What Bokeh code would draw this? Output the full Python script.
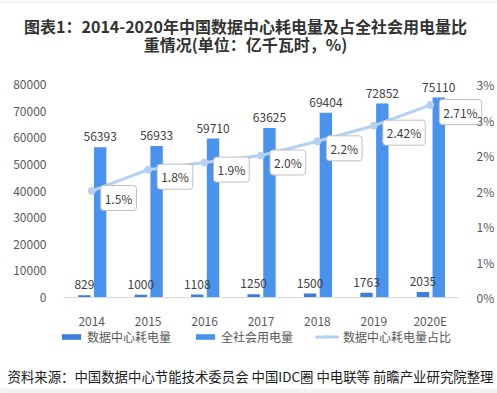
from bokeh.plotting import figure
from bokeh.models import (Range1d, LinearAxis, ColumnDataSource, Label, BoxAnnotation,
                          Legend, LegendItem, CustomJSTickFormatter, FixedTicker)
from bokeh.transform import dodge
from bokeh.core.properties import value
from bokeh.embed import file_html
from bokeh.resources import INLINE

# ---- data ----
years = ["2014", "2015", "2016", "2017", "2018", "2019", "2020E"]
dc_power = [829, 1000, 1108, 1250, 1500, 1763, 2035]
total_power = [56393, 56933, 59710, 63625, 69404, 72852, 75110]
dc_share = [1.5, 1.8, 1.9, 2.0, 2.2, 2.42, 2.71]
share_labels = ["1.5%", "1.8%", "1.9%", "2.0%", "2.2%", "2.42%", "2.71%"]
left_ticks = [0, 10000, 20000, 30000, 40000, 50000, 60000, 70000, 80000]
right_ticks = [0, 0.5, 1, 1.5, 2, 2.5, 3]
title_line1 = "图表1：2014-2020年中国数据中心耗电量及占全社会用电量比"
title_line2 = "重情况(单位：亿千瓦时，%)"
series_names = ["数据中心耗电量", "全社会用电量", "数据中心耗电量占比"]
source_note = "资料来源：中国数据中心节能技术委员会 中国IDC圈 中电联等 前瞻产业研究院整理"

# ---- layout (pixels) ----
W, H = 497, 393
PLOT_L, PLOT_R, PLOT_T, PLOT_B = 63, 458, 84, 297   # plotting area inside canvas
n = len(years)
cat_px = (PLOT_R - PLOT_L) / n
x_start = -0.5 - PLOT_L / cat_px
x_end = x_start + W / cat_px
y_max, p_max = 80000, 3
y_per_px = y_max / (PLOT_B - PLOT_T)
p_per_px = p_max / (PLOT_B - PLOT_T)

FONT = "Noto Sans CJK SC"
C_DC = "#3D7ED8"
C_TOTAL = "#4A92EA"
C_LINE = "#B5D0F0"
C_TXT = "#404040"
C_AX = "#595959"

xs = list(range(n))
src = ColumnDataSource(dict(
    x=xs, dc=dc_power, total=total_power, share=dc_share,
    dc_txt=[str(v) for v in dc_power], total_txt=[str(v) for v in total_power],
    share_txt=share_labels,
))

p = figure(width=W, height=H,
           x_range=Range1d(x_start, x_end),
           y_range=Range1d(-(H - PLOT_B) * y_per_px, y_max + PLOT_T * y_per_px),
           output_backend="svg", toolbar_location=None, title=None,
           min_border=0, min_border_left=0, min_border_right=0,
           min_border_top=0, min_border_bottom=0,
           x_axis_location=None, y_axis_location=None)
p.extra_y_ranges = {"pct": Range1d(-(H - PLOT_B) * p_per_px, p_max + PLOT_T * p_per_px)}
p.outline_line_color = None
p.xgrid.grid_line_color = None
p.ygrid.grid_line_color = None
p.background_fill_color = "white"
p.border_fill_color = "white"

# grey bands of the page (bottom and top edge)
p.add_layout(BoxAnnotation(bottom=0, top=5, bottom_units="screen", top_units="screen",
                           fill_color="#F2F2F2", fill_alpha=1, line_color=None))
p.add_layout(BoxAnnotation(bottom=H - 3, top=H, bottom_units="screen", top_units="screen",
                           fill_color="#F4F4F4", fill_alpha=1, line_color=None))

# left axis
ly = LinearAxis(ticker=FixedTicker(ticks=left_ticks), fixed_location=-0.5)
ly.axis_line_color = None
ly.major_tick_line_color = None
ly.minor_tick_line_color = None
ly.major_label_standoff = 11
ly.major_label_text_font = FONT
ly.major_label_text_font_size = "12px"
ly.major_label_text_color = C_AX
p.add_layout(ly, "left")

# right axis
ry = LinearAxis(y_range_name="pct", ticker=FixedTicker(ticks=right_ticks),
                formatter=CustomJSTickFormatter(code="return Math.round(tick) + '%';"),
                fixed_location=n - 0.5)
ry.axis_line_color = None
ry.major_tick_line_color = None
ry.minor_tick_line_color = None
ry.major_label_standoff = 12
ry.major_label_text_font = FONT
ry.major_label_text_font_size = "12px"
ry.major_label_text_color = C_AX
p.add_layout(ry, "right")

# bottom axis
bx = LinearAxis(ticker=FixedTicker(ticks=xs), fixed_location=0,
                major_label_overrides={i: y for i, y in zip(xs, years)},
                bounds=(-0.5, n - 0.5))
bx.axis_line_color = "#D9D9D9"
bx.major_tick_line_color = None
bx.minor_tick_line_color = None
bx.major_label_standoff = 8
bx.major_label_text_font = FONT
bx.major_label_text_font_size = "12px"
bx.major_label_text_color = C_AX
p.add_layout(bx, "below")

# bars
OFF_DC, OFF_TOT, BW = -0.13, 0.15, 0.22
r_dc = p.vbar(x=dodge("x", OFF_DC), top="dc", width=BW, source=src,
              fill_color=C_DC, line_color=None)
r_total = p.vbar(x=dodge("x", OFF_TOT), top="total", width=BW, source=src,
                 fill_color=C_TOTAL, line_color=None)

# bar value labels
p.text(x=dodge("x", OFF_DC), y="dc", text="dc_txt", source=src,
       text_align="center", text_baseline="bottom", y_offset=-6,
       text_font=value(FONT), text_font_size="12px", text_color=C_TXT)
p.text(x=dodge("x", OFF_TOT), y="total", text="total_txt", source=src,
       text_align="center", text_baseline="bottom", y_offset=-6,
       text_font=value(FONT), text_font_size="12px", text_color=C_TXT)

# share line
r_line = p.line(x="x", y="share", y_range_name="pct", source=src,
                line_color=C_LINE, line_width=3)
r_pts = p.scatter(x="x", y="share", y_range_name="pct", source=src, size=7,
                  fill_color=C_LINE, line_color=C_LINE)
p.text(x="x", y="share", y_range_name="pct", text="share_txt", source=src,
       text_align="left", text_baseline="middle", x_offset=9, y_offset=7,
       text_font=value(FONT), text_font_size="12px", text_color=C_TXT,
       background_fill_color="white", border_line_color="#BFBFBF",
       padding=4, border_radius=3)

# legend
legend = Legend(items=[
    LegendItem(label=series_names[0], renderers=[r_dc]),
    LegendItem(label=series_names[1], renderers=[r_total]),
    LegendItem(label=series_names[2], renderers=[r_line, r_pts]),
], orientation="horizontal", location=(59, H - 345), spacing=22, label_standoff=4,
    glyph_width=24, glyph_height=7, label_height=14, padding=0, margin=0,
    border_line_color=None, background_fill_alpha=0,
    label_text_font=FONT, label_text_font_size="12px", label_text_color=C_AX)
p.add_layout(legend)

# title and source
p.add_layout(Label(x=245, y=H - 25, x_units="screen", y_units="screen", text=title_line1,
                   text_align="center", text_baseline="middle", text_font=FONT,
                   text_font_style="bold", text_font_size="16px", text_color="#333333"))
p.add_layout(Label(x=245, y=H - 43, x_units="screen", y_units="screen", text=title_line2,
                   text_align="center", text_baseline="middle", text_font=FONT,
                   text_font_style="bold", text_font_size="16px", text_color="#333333"))
p.add_layout(Label(x=7, y=H - 375, x_units="screen", y_units="screen", text=source_note,
                   text_align="left", text_baseline="middle", text_font=FONT,
                   text_font_size="13.4px", text_color="#1A1A1A"))

open("out.html", "w").write(file_html(p, INLINE))
